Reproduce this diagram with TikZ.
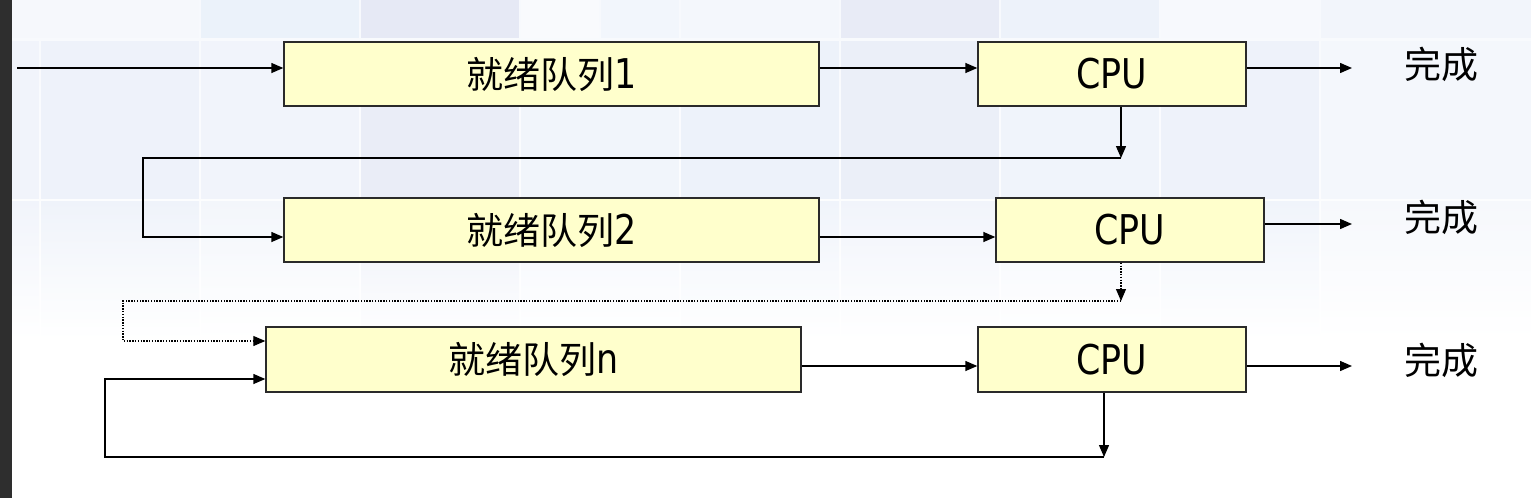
\documentclass[tikz,border=0pt]{standalone}
\usepackage{fontspec}
\usetikzlibrary{arrows.meta,calc}
\newfontfamily\cjk{Noto Sans CJK SC}
\newfontfamily\latinf[FakeStretch=0.85]{DejaVu Sans}
\definecolor{boxfill}{HTML}{FFFFCC}
\definecolor{boxline}{HTML}{2A2A2A}
\definecolor{strip}{HTML}{2E2E2E}
\definecolor{bgbase}{HTML}{F7F9FD}
\newcommand\qtext[1]{{\cjk 就绪队列}{\latinf\fontsize{41}{44}\selectfont #1}}
\newcommand\cputext{{\latinf\fontsize{41}{44}\selectfont CPU}}
\begin{document}
\begin{tikzpicture}[x=1pt,y=-1pt,
  box/.style={draw=boxline,line width=1.4pt,fill=boxfill,minimum height=64pt,inner sep=0pt,font=\fontsize{37}{40}\selectfont},
  qbox/.style={box,minimum width=535pt},
  cbox/.style={box,minimum width=268pt},
  conn/.style={line width=1.4pt,draw=black},
  arr/.style={conn,-{Triangle[length=12pt,width=10pt]}},
  dotl/.style={line width=1.2pt,dash pattern=on 1.4pt off 1.4pt},
  lbl/.style={font=\cjk\fontsize{37}{40}\selectfont,inner sep=0pt}]
\useasboundingbox (0,0) rectangle (1531,498);
% background
\fill[white] (0,0) rectangle (1531,498);
\shade[top color=bgbase,bottom color=white] (12,0) rectangle (1531,340);
% top row
\foreach \xa/\xb/\c in {12/199/F6F8FC,201/359/EBF2FA,361/519/E6E9F5,521/599/F9FAFD,601/679/F2F6FC,681/839/F4F7FC,841/999/E8EBF6,1001/1159/EDF2FA,1161/1319/F7F9FD,1321/1531/F2F5FB}
  {\definecolor{tc}{HTML}{\c}\fill[tc] (\xa,0) rectangle (\xb,37.5);}
% second row
\foreach \xa/\xb/\c in {12/39/F1F4FB,41/199/EEF2FA,201/359/F1F4FB,361/519/EAEDF7,521/679/F1F5FB,681/839/EDF2FA,841/999/EBEFF8,1001/1159/F0F4FB,1161/1319/EEF2FA,1321/1531/F4F7FC}
  {\definecolor{tc}{HTML}{\c}\fill[tc] (\xa,40.5) rectangle (\xb,199);}
% third row fading
\foreach \xa/\xb/\c in {12/39/F1F4FB,41/199/EFF3FA,201/359/F3F6FB,361/519/ECEFF8,521/679/F3F6FC,681/839/F0F4FB,841/999/F1F4FB,1001/1159/F4F7FC,1161/1319/F0F4FB,1321/1531/F6F8FC}
  {\definecolor{tc}{HTML}{\c}\shade[top color=tc,bottom color=white] (\xa,201) rectangle (\xb,340);}
\fill[strip] (0,0) rectangle (12,498);

% boxes
\node[qbox] (q1) at (551.5,74) {\qtext{1}};
\node[cbox] (cpu1) at (1112,74) {\cputext};
\node[qbox] (q2) at (551.5,230) {\qtext{2}};
\node[cbox] (cpu2) at (1130,230) {\cputext};
\node[qbox,minimum height=65pt] (qn) at (533.5,359.5) {\qtext{n}};
\node[cbox,minimum height=65pt] (cpun) at (1112,359.5) {\cputext};

\node[lbl] (done1) at (1441,64) {完成};
\node[lbl] (done2) at (1441,217) {完成};
\node[lbl] (done3) at (1441,360) {完成};

% row 1
\coordinate (in) at (17,68);
\draw[arr] (in) -- (in -| q1.west);
\draw[arr] (q1.east |- in) -- (cpu1.west |- in);
\coordinate (d1) at (1352,68);
\draw[arr] (cpu1.east |- d1) -- (d1);

% feedback 1
\coordinate (f1) at (1121,158);
\coordinate (k1) at (143,158);
\draw[arr] (cpu1.south -| f1) -- (f1);
\draw[arr] (f1) -- (k1) |- ($(q2.west)+(0,7)$);

% row 2
\draw[arr] ($(q2.east)+(0,7)$) -- ($(cpu2.west)+(0,7)$);
\coordinate (d2) at (1352,224);
\draw[arr] (cpu2.east |- d2) -- (d2);

% feedback 2 (dotted)
\coordinate (f2) at (1121,301);
\coordinate (k2) at (123,301);
\draw[arr,dotl] (cpu2.south -| f2) -- (f2);
\draw[arr,dotl] (f2) -- (k2) |- ($(qn.west)+(0,-18.5)$);

% row n
\draw[arr] ($(qn.east)+(0,6.5)$) -- ($(cpun.west)+(0,6.5)$);
\coordinate (d3) at (1352,366);
\draw[arr] (cpun.east |- d3) -- (d3);

% loop
\coordinate (f3) at (1104,457);
\coordinate (k3) at (105,457);
\draw[arr] (cpun.south -| f3) -- (f3);
\draw[arr] (f3) -- (k3) |- ($(qn.west)+(0,19.5)$);
\end{tikzpicture}
\end{document}
